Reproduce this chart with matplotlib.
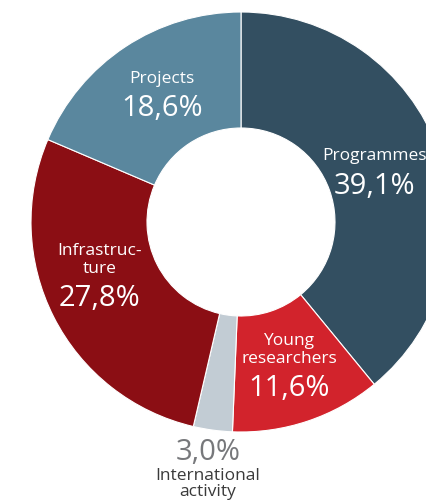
import matplotlib
matplotlib.use("Agg")
import matplotlib.pyplot as plt

# budget shares, clockwise from the top
categories = ["Programmes", "Young researchers", "International activity", "Infrastructure", "Projects"]
shares = [39.1, 11.6, 3.0, 27.8, 18.6]
colors = ["#334f61", "#d2232c", "#c2ccd4", "#8b0e14", "#5a879e"]

plt.rcParams['font.family'] = ['Open Sans', 'DejaVu Sans']

W, H = 427, 502
fig = plt.figure(figsize=(W / 100, H / 100), dpi=100)
ax = fig.add_axes([0, 0, 1, 1])

cx, cy = 241, H - 223
R, r = 210, 94
ax.pie(shares, colors=colors, startangle=90, counterclock=False,
       center=(cx, cy), radius=R, frame=True,
       wedgeprops=dict(width=R - r, edgecolor='white', linewidth=0.8))
ax.set_xlim(0, W)
ax.set_ylim(0, H)
ax.set_aspect('equal')
ax.axis('off')

def fmt(v):
    return f"{v:.1f}%".replace('.', ',')

# label lines (name parts) with pixel anchor of the block
labels = {
    "Programmes": (["Programmes"], 375, 156),
    "Young researchers": (["Young", "researchers"], 289, 341),
    "Infrastructure": (["Infrastruc-", "ture"], 100, 251),
    "Projects": (["Projects"], 162, 79),
}
for name, v in zip(categories, shares):
    if name not in labels:
        continue
    lines, x, y = labels[name]
    for i, ln in enumerate(lines):
        ax.text(x, H - (y + 18 * i), ln, color='white', fontsize=12.5,
                ha='center', va='center')
    ax.text(x, H - (y + 18 * (len(lines) - 1) + 30), fmt(v), color='white',
            fontsize=21, ha='center', va='center')

# small slice labelled below the ring
iv = shares[categories.index("International activity")]
ax.text(208, H - 453, fmt(iv), color='#77787b', fontsize=21, ha='center', va='center')
ax.text(208, H - 476, "International", color='#3a3a3a', fontsize=12.5, ha='center', va='center')
ax.text(208, H - 492, "activity", color='#3a3a3a', fontsize=12.5, ha='center', va='center')

fig.savefig("out.png", dpi=100)
